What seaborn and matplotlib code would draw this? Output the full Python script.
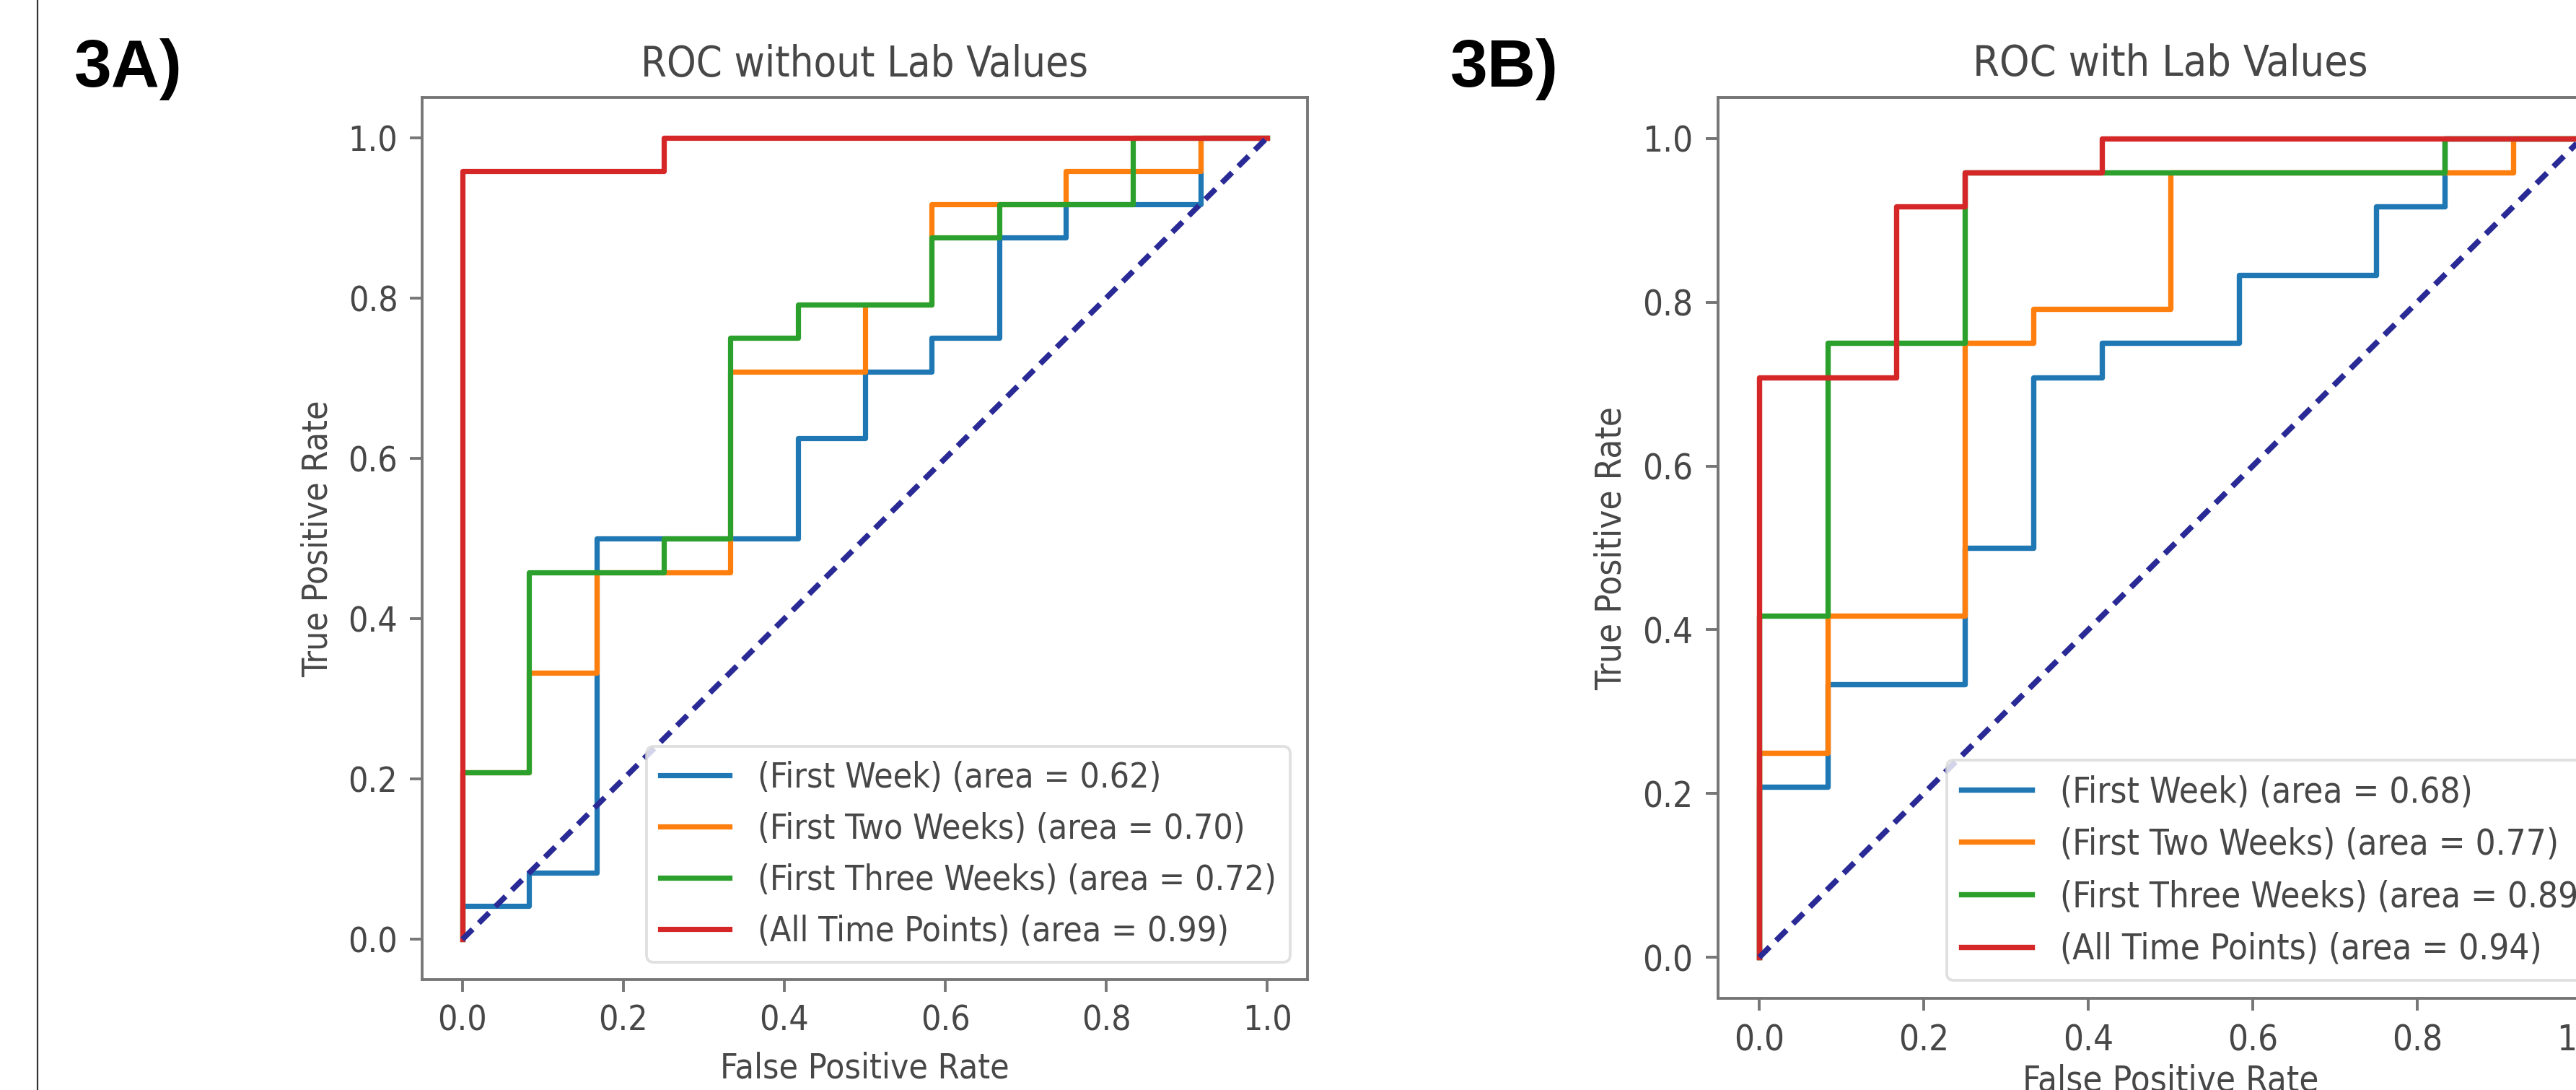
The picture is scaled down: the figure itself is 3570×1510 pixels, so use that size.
import matplotlib
matplotlib.use("Agg")
import matplotlib.pyplot as plt
from matplotlib.lines import Line2D
import seaborn as sns

# ---------------- data ----------------
labels_a = ["(First Week) (area = 0.62)",
            "(First Two Weeks) (area = 0.70)",
            "(First Three Weeks) (area = 0.72)",
            "(All Time Points) (area = 0.99)"]
labels_b = ["(First Week) (area = 0.68)",
            "(First Two Weeks) (area = 0.77)",
            "(First Three Weeks) (area = 0.89)",
            "(All Time Points) (area = 0.94)"]

# Panel A: ROC without lab values
fpr_a_week1 = [0.0, 0.0, 0.083, 0.083, 0.167, 0.167, 0.417, 0.417, 0.5, 0.5, 0.583, 0.583,
               0.667, 0.667, 0.75, 0.75, 0.917, 0.917, 1.0]
tpr_a_week1 = [0.0, 0.042, 0.042, 0.083, 0.083, 0.5, 0.5, 0.625, 0.625, 0.708, 0.708, 0.75,
               0.75, 0.875, 0.875, 0.917, 0.917, 1.0, 1.0]
fpr_a_week2 = [0.0, 0.0, 0.083, 0.083, 0.167, 0.167, 0.333, 0.333, 0.5, 0.5, 0.583, 0.583,
               0.75, 0.75, 0.917, 0.917, 1.0]
tpr_a_week2 = [0.0, 0.208, 0.208, 0.333, 0.333, 0.458, 0.458, 0.708, 0.708, 0.792, 0.792, 0.917,
               0.917, 0.958, 0.958, 1.0, 1.0]
fpr_a_week3 = [0.0, 0.0, 0.083, 0.083, 0.25, 0.25, 0.333, 0.333, 0.417, 0.417, 0.583, 0.583,
               0.667, 0.667, 0.833, 0.833, 1.0]
tpr_a_week3 = [0.0, 0.208, 0.208, 0.458, 0.458, 0.5, 0.5, 0.75, 0.75, 0.792, 0.792, 0.875,
               0.875, 0.917, 0.917, 1.0, 1.0]
fpr_a_all = [0.0, 0.0, 0.25, 0.25, 1.0]
tpr_a_all = [0.0, 0.958, 0.958, 1.0, 1.0]

# Panel B: ROC with lab values
fpr_b_week1 = [0.0, 0.0, 0.083, 0.083, 0.25, 0.25, 0.333, 0.333, 0.417, 0.417, 0.583, 0.583,
               0.75, 0.75, 0.833, 0.833, 1.0]
tpr_b_week1 = [0.0, 0.208, 0.208, 0.333, 0.333, 0.5, 0.5, 0.708, 0.708, 0.75, 0.75, 0.833,
               0.833, 0.917, 0.917, 1.0, 1.0]
fpr_b_week2 = [0.0, 0.0, 0.083, 0.083, 0.25, 0.25, 0.333, 0.333, 0.5, 0.5, 0.917, 0.917, 1.0]
tpr_b_week2 = [0.0, 0.25, 0.25, 0.417, 0.417, 0.75, 0.75, 0.792, 0.792, 0.958, 0.958, 1.0, 1.0]
fpr_b_week3 = [0.0, 0.0, 0.083, 0.083, 0.25, 0.25, 0.833, 0.833, 1.0]
tpr_b_week3 = [0.0, 0.417, 0.417, 0.75, 0.75, 0.958, 0.958, 1.0, 1.0]
fpr_b_all = [0.0, 0.0, 0.167, 0.167, 0.25, 0.25, 0.417, 0.417, 1.0]
tpr_b_all = [0.0, 0.708, 0.708, 0.917, 0.917, 0.958, 0.958, 1.0, 1.0]

chance = [0.0, 1.0]
ticks = [0.0, 0.2, 0.4, 0.6, 0.8, 1.0]
tick_labels = ["0.0", "0.2", "0.4", "0.6", "0.8", "1.0"]
colors = ["#1f77b4", "#ff7f0e", "#2ca02c", "#d62728"]

plt.rcParams["font.family"] = ["DejaVu Sans"]
plt.rcParams["font.stretch"] = "condensed"

W, H, DPI = 3570, 1510, 100
fig = plt.figure(figsize=(W / DPI, H / DPI), dpi=DPI, facecolor="white")

TEXT = "#474747"
SPINE = "#767676"


def draw_panel(rect, S, title, curves, labels, xlabelpad):
    ax = fig.add_axes(rect)
    for (fx, ty), lab, col in zip(curves, labels, colors):
        sns.lineplot(x=fx, y=ty, ax=ax, estimator=None, sort=False,
                     color=col, lw=1.5 * S, label=lab)
    sns.lineplot(x=chance, y=chance, ax=ax, estimator=None, sort=False,
                 color="#2a2a96", lw=1.6 * S, dashes=False)
    ax.lines[-1].set_dashes((2.6, 1.6))
    ax.set_xlim(-0.05, 1.05)
    ax.set_ylim(-0.05, 1.05)
    ax.set_xticks(ticks)
    ax.set_xticklabels(tick_labels)
    ax.set_yticks(ticks)
    ax.set_yticklabels(tick_labels)
    ax.tick_params(length=3.5 * S, width=0.8 * S, pad=3.5 * S,
                   labelsize=10 * S, colors=SPINE, labelcolor=TEXT)
    for sp in ax.spines.values():
        sp.set_linewidth(0.8 * S)
        sp.set_color(SPINE)
    ax.set_xlabel("False Positive Rate", fontsize=10 * S, color=TEXT, labelpad=xlabelpad)
    ax.set_ylabel("True Positive Rate", fontsize=10 * S, color=TEXT, labelpad=4 * S)
    ax.set_title(title, fontsize=12 * S, color=TEXT, pad=6 * S)
    leg = ax.legend(loc="lower right", fontsize=10 * S, frameon=True,
                    borderaxespad=0.5, handlelength=2.0)
    leg.get_frame().set_linewidth(0.8 * S)
    leg.get_frame().set_edgecolor("0.85")
    for t in leg.get_texts():
        t.set_color(TEXT)
    ax.set_facecolor("white")
    return ax


S_a = 3.46
S_b = 3.54

curves_a = [(fpr_a_week1, tpr_a_week1), (fpr_a_week2, tpr_a_week2),
            (fpr_a_week3, tpr_a_week3), (fpr_a_all, tpr_a_all)]
curves_b = [(fpr_b_week1, tpr_b_week1), (fpr_b_week2, tpr_b_week2),
            (fpr_b_week3, tpr_b_week3), (fpr_b_all, tpr_b_all)]

draw_panel([585 / W, (H - 1357) / H, 1227 / W, 1222 / H], S_a,
           "ROC without Lab Values", curves_a, labels_a, 4 * S_a)
draw_panel([2381 / W, (H - 1383) / H, 1254 / W, 1248 / H], S_b,
           "ROC with Lab Values", curves_b, labels_b, 1.6 * S_b)

for xpix, txt in [(103, "3A)"), (2010, "3B)")]:
    fig.text(xpix / W, 1 - 120 / H, txt, fontsize=67, fontweight="bold",
             family="Liberation Sans", fontstretch="normal",
             va="baseline", ha="left", color="black")

fig.add_artist(Line2D([52 / W, 52 / W], [0, 1], transform=fig.transFigure,
                      color="#333333", lw=1.6))

fig.savefig("out.png", dpi=DPI, facecolor="white")
